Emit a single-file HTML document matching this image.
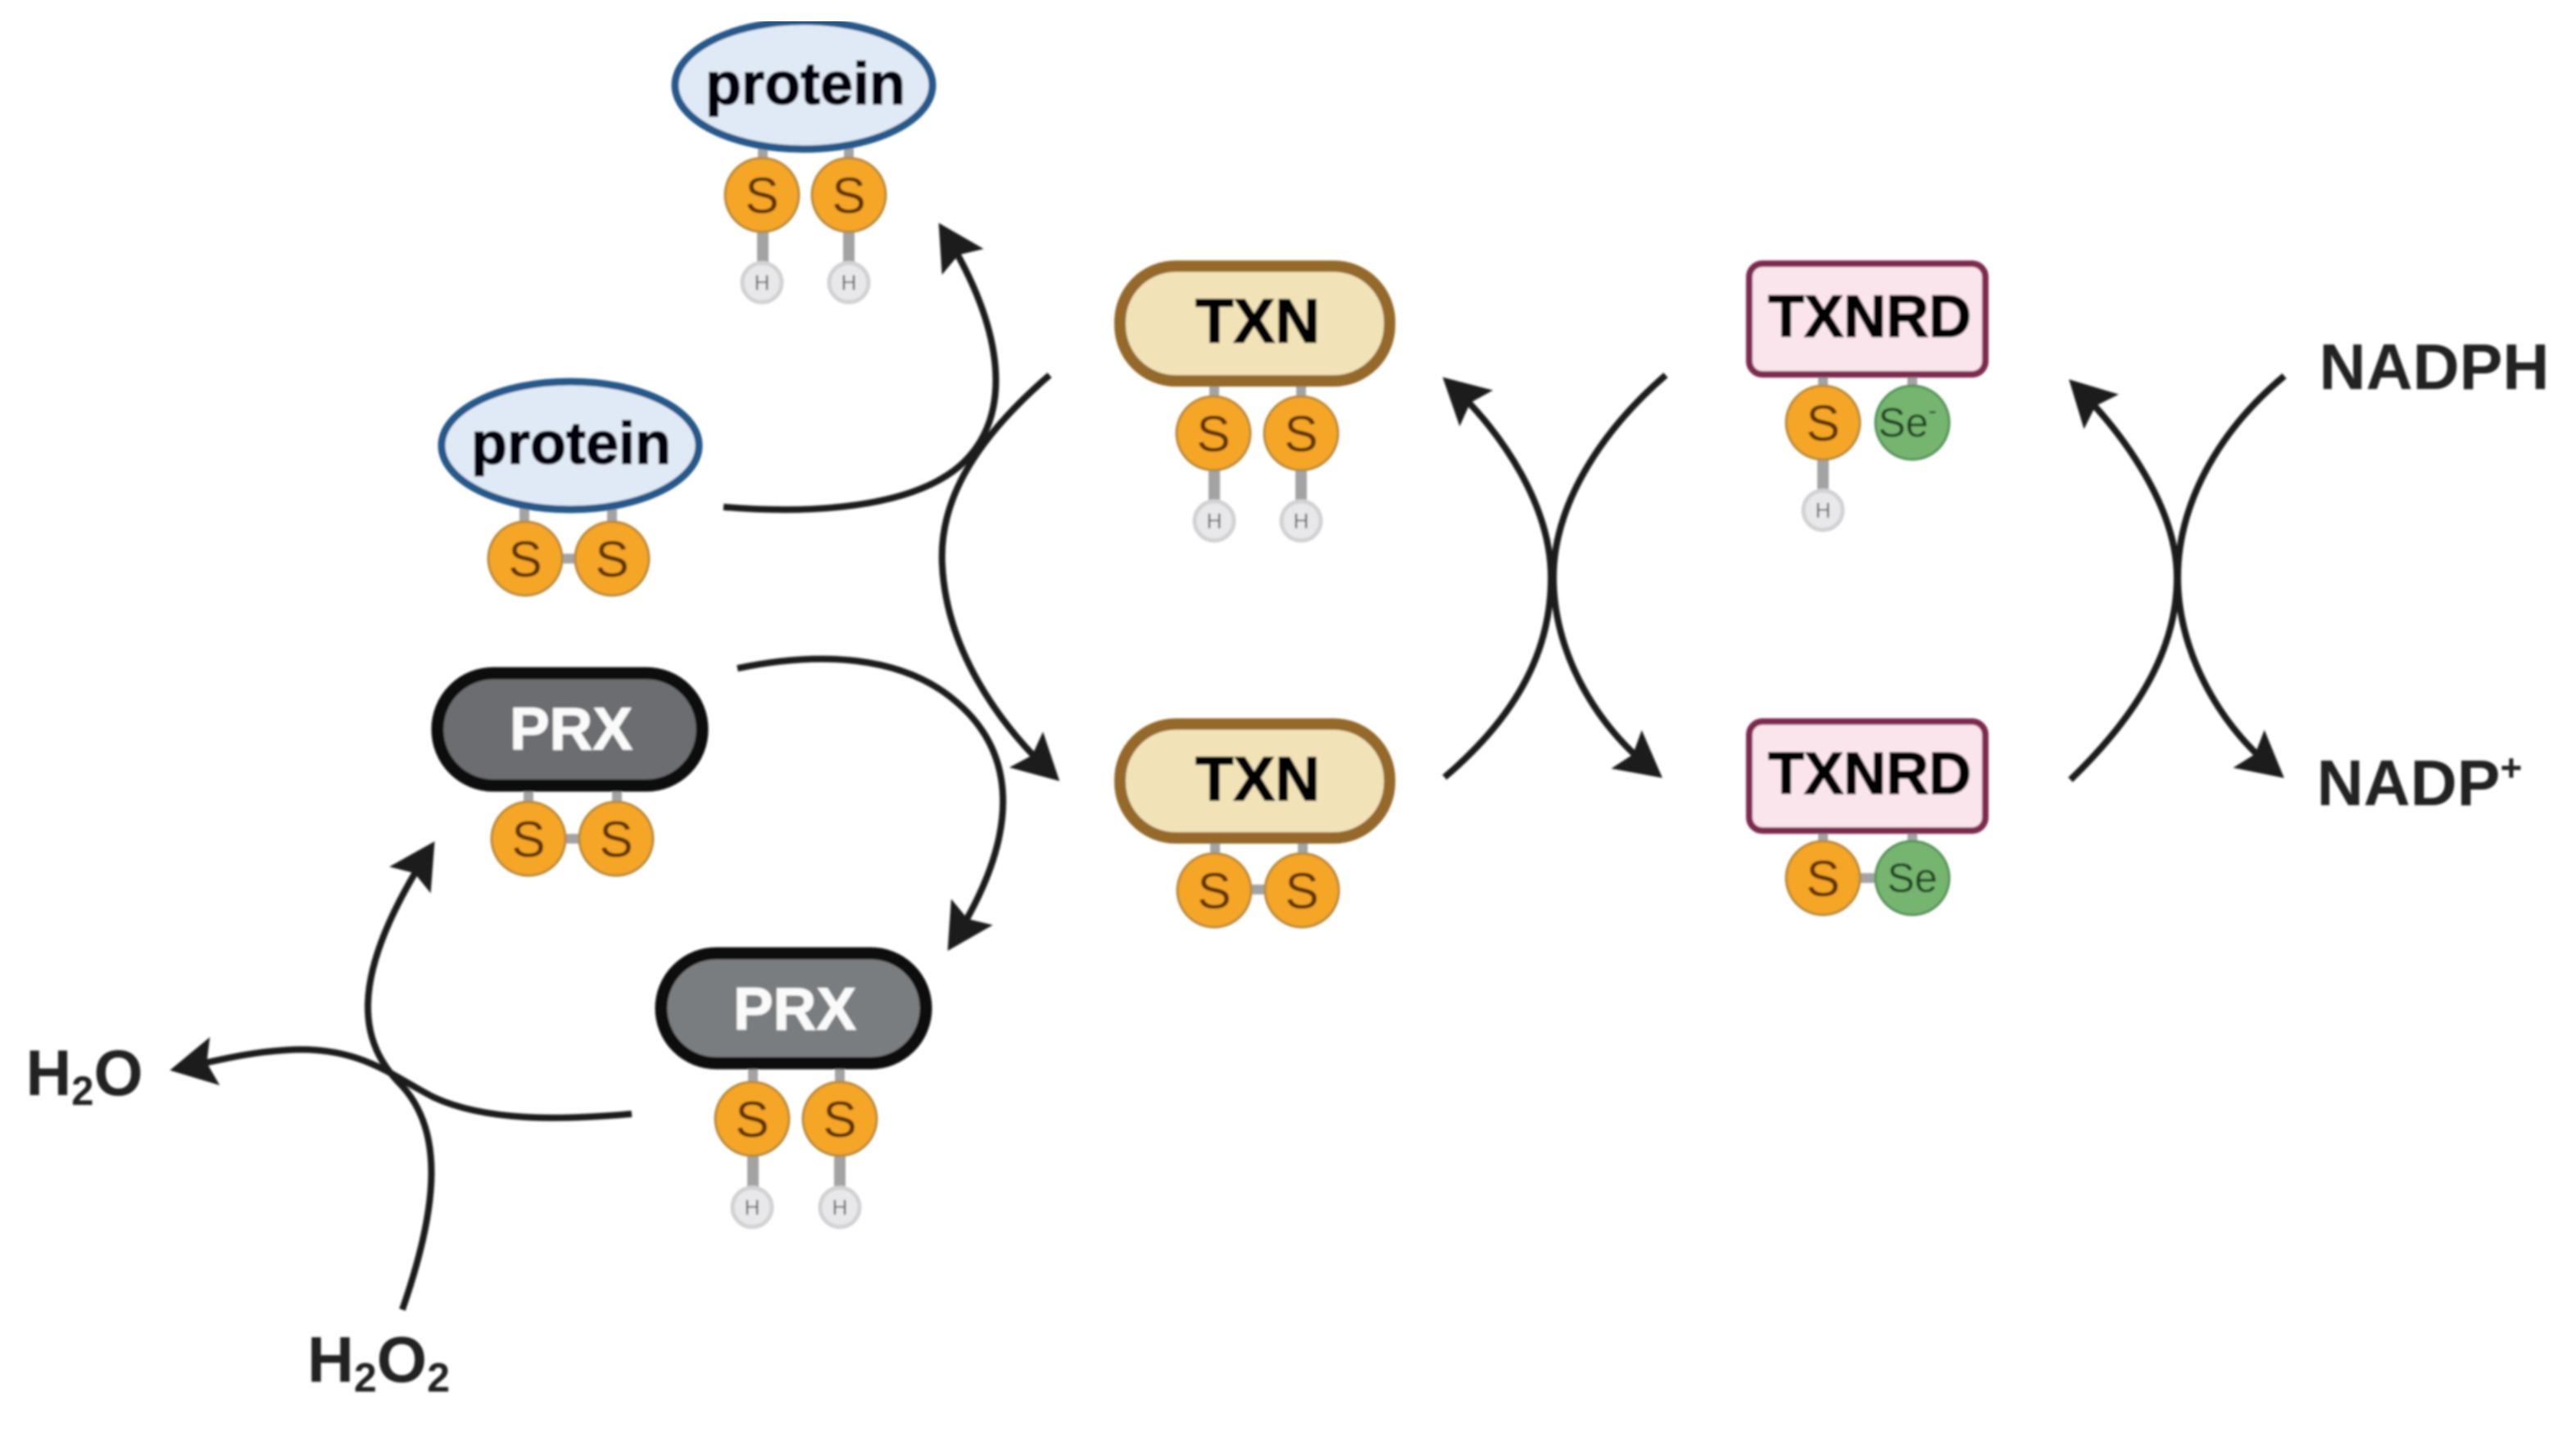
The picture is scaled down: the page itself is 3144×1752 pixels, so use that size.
<!DOCTYPE html>
<html><head><meta charset="utf-8"><title>Thioredoxin system</title>
<style>
html,body{margin:0;padding:0;background:#fff}
svg{display:block}
text{font-family:"Liberation Sans",sans-serif;text-anchor:middle}
.c{stroke:#1c1c1c;stroke-width:8;fill:none;stroke-linecap:butt}
.b{fill:#a3a3a3}
.s{fill:#f6a628;stroke:#b98a3a;stroke-width:3}
.se{fill:#76b56f;stroke:#55935a;stroke-width:3}
.h{fill:#e8e8ea;stroke:#d2d2d4;stroke-width:5}
.st{font-size:62px;fill:#5e3206}
.set{font-size:50px;fill:#1a4220}
.ht{font-size:26px;fill:#666}
.p{fill:#e0eaf6;stroke:#27598a;stroke-width:9}
.pt{font-size:72px;font-weight:bold;fill:#050508;stroke:#050508;stroke-width:1.5}
.tx{fill:#f2e2b8;stroke:#94692c;stroke-width:14}
.txt{font-size:76px;font-weight:bold;fill:#050505;stroke:#050505;stroke-width:1.5}
.r{fill:#fbe5ec;stroke:#7e2a50;stroke-width:8}
.rt{font-size:72px;font-weight:bold;fill:#050505;stroke:#050505;stroke-width:1.5}
.px{stroke:#0a0a0a;stroke-width:15}
.pxt{font-size:73px;font-weight:bold;fill:#fafafa;stroke:#fafafa;stroke-width:1}
.l{font-size:79px;font-weight:bold;fill:#222}
.sub{font-size:50px}
</style></head><body>
<svg width="3144" height="1752" viewBox="0 0 3144 1752" xmlns="http://www.w3.org/2000/svg">
<defs>
<marker id="a" markerUnits="userSpaceOnUse" markerWidth="120" markerHeight="120" refX="-14" refY="0" viewBox="-70 -60 120 120" orient="auto" overflow="visible">
<polygon points="0,0 -56,-30 -46,0 -56,30" fill="#1c1c1c"/>
</marker>
<filter id="blur" x="0" y="0" width="100%" height="100%"><feGaussianBlur stdDeviation="1.3"/></filter>
</defs>
<rect width="3144" height="1752" fill="#fff"/>
<g filter="url(#blur)">

<!-- connectors -->
<path class="c" marker-end="url(#a)" d="M883 619 C990 628,1110 620,1170 570 C1240 510,1225 400,1153 284"/>
<path class="c" marker-end="url(#a)" d="M1281 458 C1180 545,1146 620,1150 690 C1155 790,1215 880,1283 944"/>
<path class="c" marker-end="url(#a)" d="M900 816 C1000 795,1100 800,1165 855 C1243 920,1245 1020,1164 1149"/>
<path class="c" marker-end="url(#a)" d="M771 1360 C700 1366,600 1372,530 1340 C480 1315,440 1276,350 1282 C300 1285,265 1295,221 1304"/>
<path class="c" marker-end="url(#a)" d="M491 1599 C536 1470,541 1380,490 1325 C440 1275,420 1200,523 1039"/>
<path class="c" marker-end="url(#a)" d="M1763 949 C1856 870,1893 790,1893 705 C1893 620,1836 530,1771 470"/>
<path class="c" marker-end="url(#a)" d="M2033 458 C1950 530,1896 620,1896 705 C1896 790,1941 880,2018 941"/>
<path class="c" marker-end="url(#a)" d="M2527 952 C2612 870,2657 790,2657 705 C2657 620,2592 530,2535 473"/>
<path class="c" marker-end="url(#a)" d="M2788 459 C2703 530,2658 620,2658 705 C2658 790,2703 880,2777 941"/>

<!-- protein top -->
<rect class="b" x="925" y="175" width="12" height="30"/><rect class="b" x="1030" y="175" width="12" height="30"/>
<rect class="b" x="924" y="280" width="14" height="50"/><rect class="b" x="1029" y="280" width="14" height="50"/>
<ellipse class="p" cx="981" cy="104" rx="157" ry="78"/>
<text class="pt" x="983" y="127">protein</text>
<circle class="s" cx="930" cy="238" r="45"/><text class="st" x="930" y="260">S</text>
<circle class="s" cx="1036" cy="238" r="45"/><text class="st" x="1036" y="260">S</text>
<circle class="h" cx="930" cy="345" r="24"/><text class="ht" x="930" y="354">H</text>
<circle class="h" cx="1036" cy="345" r="24"/><text class="ht" x="1036" y="354">H</text>

<!-- protein 2 -->
<rect class="b" x="634" y="614" width="12" height="30"/><rect class="b" x="741" y="614" width="12" height="30"/>
<rect class="b" x="680" y="676" width="30" height="12"/>
<ellipse class="p" cx="696" cy="544" rx="157" ry="78"/>
<text class="pt" x="697" y="566">protein</text>
<circle class="s" cx="641" cy="682" r="45"/><text class="st" x="641" y="704">S</text>
<circle class="s" cx="747" cy="682" r="45"/><text class="st" x="747" y="704">S</text>

<!-- PRX upper -->
<rect class="b" x="639" y="960" width="12" height="30"/><rect class="b" x="747" y="960" width="12" height="30"/>
<rect class="b" x="685" y="1018" width="30" height="12"/>
<rect class="px" x="534" y="822" width="323" height="137" rx="68" fill="#6c6d6f"/>
<text class="pxt" x="697" y="915">PRX</text>
<circle class="s" cx="645" cy="1024" r="45"/><text class="st" x="645" y="1046">S</text>
<circle class="s" cx="752" cy="1024" r="45"/><text class="st" x="752" y="1046">S</text>

<!-- PRX lower -->
<rect class="b" x="913" y="1300" width="12" height="30"/><rect class="b" x="1019" y="1300" width="12" height="30"/>
<rect class="b" x="912" y="1400" width="14" height="50"/><rect class="b" x="1018" y="1400" width="14" height="50"/>
<rect class="px" x="807" y="1164" width="323" height="134" rx="67" fill="#7a7d7f"/>
<text class="pxt" x="970" y="1257">PRX</text>
<circle class="s" cx="918" cy="1366" r="45"/><text class="st" x="918" y="1388">S</text>
<circle class="s" cx="1025" cy="1366" r="45"/><text class="st" x="1025" y="1388">S</text>
<circle class="h" cx="918" cy="1474" r="24"/><text class="ht" x="918" y="1483">H</text>
<circle class="h" cx="1025" cy="1474" r="24"/><text class="ht" x="1025" y="1483">H</text>

<!-- TXN upper -->
<rect class="b" x="1476" y="465" width="12" height="30"/><rect class="b" x="1582" y="465" width="12" height="30"/>
<rect class="b" x="1475" y="570" width="14" height="50"/><rect class="b" x="1581" y="570" width="14" height="50"/>
<rect class="tx" x="1367" y="325" width="329" height="140" rx="68"/>
<text class="txt" x="1535" y="418">TXN</text>
<circle class="s" cx="1481" cy="529" r="45"/><text class="st" x="1481" y="551">S</text>
<circle class="s" cx="1588" cy="529" r="45"/><text class="st" x="1588" y="551">S</text>
<circle class="h" cx="1482" cy="636" r="24"/><text class="ht" x="1482" y="645">H</text>
<circle class="h" cx="1588" cy="636" r="24"/><text class="ht" x="1588" y="645">H</text>

<!-- TXN lower -->
<rect class="b" x="1477" y="1022" width="12" height="30"/><rect class="b" x="1584" y="1022" width="12" height="30"/>
<rect class="b" x="1520" y="1080" width="30" height="12"/>
<rect class="tx" x="1367" y="884" width="329" height="139" rx="68"/>
<text class="txt" x="1535" y="977">TXN</text>
<circle class="s" cx="1482" cy="1087" r="45"/><text class="st" x="1482" y="1109">S</text>
<circle class="s" cx="1589" cy="1087" r="45"/><text class="st" x="1589" y="1109">S</text>

<!-- TXNRD upper -->
<rect class="b" x="2219" y="455" width="12" height="30"/><rect class="b" x="2328" y="455" width="12" height="30"/>
<rect class="b" x="2218" y="560" width="14" height="50"/>
<rect class="r" x="2135" y="322" width="288" height="135" rx="16"/>
<text class="rt" x="2282" y="411">TXNRD</text>
<circle class="s" cx="2225" cy="516" r="45"/><text class="st" x="2225" y="538">S</text>
<circle class="se" cx="2334" cy="516" r="45"/><text class="set" x="2328" y="533">Se<tspan font-size="30" dy="-22">-</tspan></text>
<circle class="h" cx="2225" cy="623" r="24"/><text class="ht" x="2225" y="632">H</text>

<!-- TXNRD lower -->
<rect class="b" x="2219" y="1012" width="12" height="30"/><rect class="b" x="2328" y="1012" width="12" height="30"/>
<rect class="b" x="2264" y="1066" width="30" height="12"/>
<rect class="r" x="2135" y="881" width="288" height="133" rx="16"/>
<text class="rt" x="2282" y="969">TXNRD</text>
<circle class="s" cx="2225" cy="1072" r="45"/><text class="st" x="2225" y="1094">S</text>
<circle class="se" cx="2334" cy="1072" r="45"/><text class="set" x="2334" y="1089">Se</text>

<!-- labels -->
<text class="l" x="2971" y="475">NADPH</text>
<text class="l" x="2953" y="983" >NADP<tspan font-size="46" dy="-30">+</tspan></text>
<text class="l" x="103" y="1337" textLength="143" lengthAdjust="spacingAndGlyphs">H<tspan class="sub" dy="12">2</tspan><tspan dy="-12">O</tspan></text>
<text class="l" x="462" y="1687" textLength="174" lengthAdjust="spacingAndGlyphs">H<tspan class="sub" dy="12">2</tspan><tspan dy="-12">O</tspan><tspan class="sub" dy="12">2</tspan></text>
</g>
</svg>
</body></html>
